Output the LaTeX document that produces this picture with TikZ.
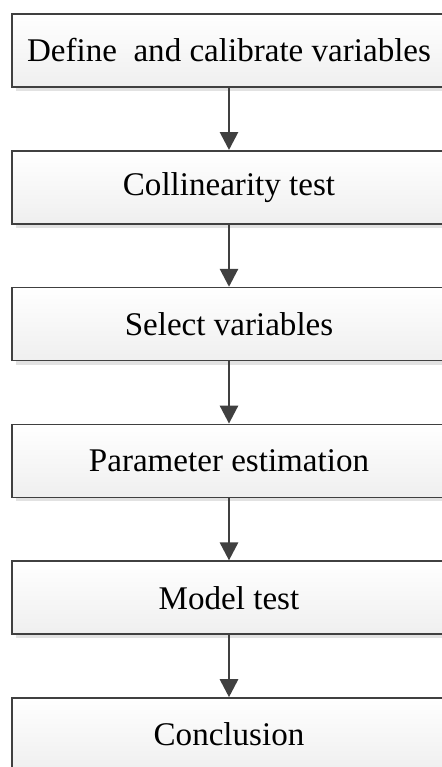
\documentclass[tikz,border=0pt]{standalone}
\usepackage{fontspec}
\setmainfont{Liberation Serif}
\usetikzlibrary{arrows.meta,shadows}

\definecolor{edgegray}{HTML}{404040}
\definecolor{shadegray}{HTML}{EFEFEF}
\definecolor{shadowgray}{HTML}{E2E2E2}

\tikzset{
  stepbox/.style={draw=edgegray, line width=1.2pt, top color=white, bottom color=shadegray,
    minimum width=325.5pt, minimum height=54.75pt, inner sep=0pt,
    font=\fontsize{24.8}{28}\selectfont,
    drop shadow={shadow xshift=3pt, shadow yshift=-3pt, fill=shadowgray, opacity=1}},
  flow/.style={draw=edgegray, line width=2.1pt, -{Triangle[width=13.5pt,length=13.5pt]}}
}

\begin{document}
\begin{tikzpicture}[x=0.75pt, y=-0.75pt]
    % Frame
    \fill[white] (0,0) rectangle (442,767);
    \useasboundingbox (0,0) rectangle (442,767);
    % Steps
    \node[stepbox] (define) at (229,50.5) {Define~ and calibrate variables};
    \node[stepbox] (collin) at (229,187.3) {Collinearity test};
    \node[stepbox] (select) at (229,324.1) {Select variables};
    \node[stepbox] (param)  at (229,460.9) {Parameter estimation};
    \node[stepbox] (model)  at (229,597.7) {Model test};
    \node[stepbox] (concl)  at (229,734.5) {Conclusion};
    % Arrows
    \draw[flow] (define) -- (collin);
    \draw[flow] (collin) -- (select);
    \draw[flow] (select) -- (param);
    \draw[flow] (param)  -- (model);
    \draw[flow] (model)  -- (concl);
\end{tikzpicture}
\end{document}
